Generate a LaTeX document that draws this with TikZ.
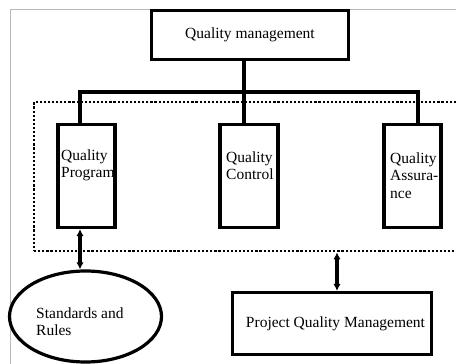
\documentclass[tikz,border=0pt]{standalone}
\usepackage{fontspec}
\setmainfont{Liberation Serif}
\usetikzlibrary{arrows.meta,shapes.geometric}
\begin{document}
\begin{tikzpicture}[x=1pt,y=-1pt,
  box/.style={draw, line width=3.2pt, inner sep=0pt},
  lbl/.style={inner sep=0pt, align=left, font=\fontsize{15.5}{17.5}\selectfont},
  link/.style={line width=3.2pt, line join=miter},
  twoway/.style={draw, line width=3.2pt, {Latex[length=7pt,width=7.5pt]}-{Latex[length=7pt,width=7.5pt]}},
  groupframe/.style={draw, line width=2.8pt, dash pattern=on 2.2pt off 1.9pt, inner sep=0pt}
]
\useasboundingbox (0,0) rectangle (456,364);

% light outer frame
\draw[gray!55, line width=1pt] (10,400) -- (10,9) -- (480,9);

% dotted group around the three functions
\node[groupframe, minimum width=446pt, minimum height=149pt] (grp) at (257,176.5) {};

% top box
\node[box, fill=white, minimum width=197pt, minimum height=49pt, font=\fontsize{15.5}{17.5}\selectfont] (qm) at (250,35) {Quality management};

% the three function boxes
\node[box, fill=white, minimum width=57pt, minimum height=103pt] (qp) at (86.5,176) {};
\node[box, fill=white, minimum width=58pt, minimum height=103pt] (qc) at (249,176) {};
\node[box, fill=white, minimum width=57pt, minimum height=103pt] (qa) at (412.5,176) {};

\node[lbl, anchor=north west] (qpt) at (61,149.5) {Quality\\Program};
\node[lbl, anchor=north west] (qct) at (226,151.5) {Quality\\Control};
\node[lbl, anchor=north west] (qat) at (390,152.5) {Quality\\Assura-\\nce};

% standards and project quality management
\node[draw, ellipse, line width=3.2pt, minimum width=152pt, minimum height=91pt, inner sep=0pt] (sr) at (85.5,316.5) {};
\node[lbl, anchor=north west] (srt) at (36,307.5) {Standards and\\Rules};
\node[box, minimum width=199pt, minimum height=62pt, font=\fontsize{15.5}{17.5}\selectfont] (pqm) at (332,323.5) {\hspace*{7pt}Project Quality Management};

% tree connectors
\coordinate (jl) at (80,92);
\coordinate (jc) at (244,92);
\coordinate (jr) at (418,92);
\draw[link] (jl |- qp.north) -- (jl) -- (jr) -- (jr |- qa.north);
\draw[link] (qm.south -| jc) -- (jc |- qc.north);

% two-way links
\coordinate (jp) at (337,0);
\path[twoway] (jl |- qp.south) -- (jl |- sr.north);
\path[twoway] (jp |- grp.south) -- (jp |- pqm.north);
\end{tikzpicture}
\end{document}
